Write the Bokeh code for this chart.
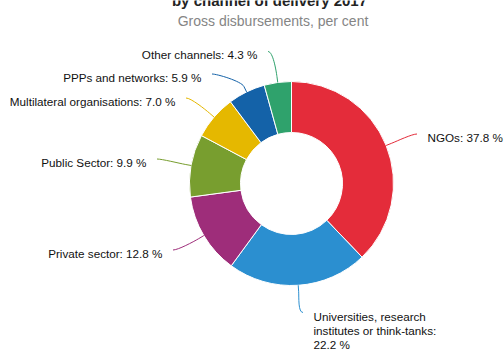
import math
from bokeh.plotting import figure
from bokeh.models import Range1d, ColumnDataSource
from bokeh.core.properties import value
from bokeh.embed import file_html
from bokeh.resources import INLINE

# ---- data ----
channels = ["NGOs", "Universities, research\ninstitutes or think-tanks:", "Private sector",
            "Public Sector", "Multilateral organisations", "PPPs and networks", "Other channels"]
shares = [37.8, 22.2, 12.8, 9.9, 7.0, 5.9, 4.3]
colors = ["#E42C3A", "#2B8FD0", "#9E2D7A", "#789E2F", "#E5B800", "#1462A8", "#2FA26C"]
title = "by channel of delivery 2017"
subtitle = "Gross disbursements, per cent"

# ---- layout (pixel coords; y grows downward) ----
W, H = 504, 350
cx, cy = 291, 183           # donut centre
r_out, r_in = 102, 51
# label anchor: x of the text edge nearest the donut, y centre of block, side
label_x = [427, 313, 162, 146, 175, 201, 257]
label_y = [136.5, 330, 252.5, 161.5, 100.5, 76.5, 54]
label_side = ["left", "left", "right", "right", "right", "right", "right"]
label_first_line_dy = [0, -15, 0, 0, 0, 0, 0]

def Y(py):
    return -py

p = figure(width=W, height=H, output_backend="svg", toolbar_location=None,
           x_range=Range1d(0, W), y_range=Range1d(-H, 0),
           min_border=0, outline_line_color=None)
p.axis.visible = False
p.grid.visible = False
p.background_fill_color = "white"
p.border_fill_color = "white"

total = sum(shares)
starts, ends, mids = [], [], []
acc = 0.0
for s in shares:
    a0 = math.pi / 2 - 2 * math.pi * acc / total
    acc += s
    a1 = math.pi / 2 - 2 * math.pi * acc / total
    starts.append(a0)
    ends.append(a1)
    mids.append((a0 + a1) / 2)

src = ColumnDataSource(dict(start=starts, end=ends, color=colors,
                            x=[cx] * len(shares), y=[Y(cy)] * len(shares)))
p.annular_wedge(x="x", y="y", inner_radius=r_in, outer_radius=r_out,
                start_angle="start", end_angle="end", direction="clock",
                fill_color="color", line_color="white", line_width=1, source=src)

# connectors (soft, Highcharts-like)
for i, a in enumerate(mids):
    tx = cx + r_out * math.cos(a)
    ty = cy - r_out * math.sin(a)
    off = 6
    bx = cx + (r_out + off) * math.cos(a)
    by = cy - (r_out + off) * math.sin(a)
    gap = 10.5
    if label_side[i] == "left":
        lx = label_x[i] - gap
        c0x = lx - 5
    else:
        lx = label_x[i] + gap
        c0x = lx + 5
    ly = label_y[i] + label_first_line_dy[i] - 3
    c1x, c1y = 2 * bx - tx, 2 * by - ty
    p.bezier(x0=[lx], y0=[Y(ly)], x1=[bx], y1=[Y(by)], cx0=[c0x], cy0=[Y(ly)],
             cx1=[c1x], cy1=[Y(c1y)], line_color=colors[i], line_width=1)
    p.line(x=[bx, tx], y=[Y(by), Y(ty)], line_color=colors[i], line_width=1)

# labels
texts = []
for i, name in enumerate(channels):
    if "\n" in name:
        texts.append(f"{name}\n{shares[i]:.1f} %")
    else:
        texts.append(f"{name}: {shares[i]:.1f} %")
lsrc = ColumnDataSource(dict(x=label_x, y=[Y(v) for v in label_y], text=texts,
                             align=label_side))
p.text(x="x", y="y", text="text", source=lsrc, text_align="align",
       text_baseline="middle", text_font=value("Liberation Sans"),
       text_font_size="11.7px", text_color="#111111", text_line_height=1.08)

# titles (the title is cut off at the top edge in the reference)
p.text(x=[269], y=[Y(0)], text=[title], text_align="center",
       text_baseline="alphabetic", text_font=value("Liberation Sans"),
       text_font_size="15px", text_font_style="bold", text_color="#222222")
p.text(x=[272.5], y=[Y(20)], text=[subtitle], text_align="center",
       text_baseline="middle", text_font=value("Liberation Sans"),
       text_font_size="14px", text_color="#858585")

open("out.html", "w").write(file_html(p, INLINE))
